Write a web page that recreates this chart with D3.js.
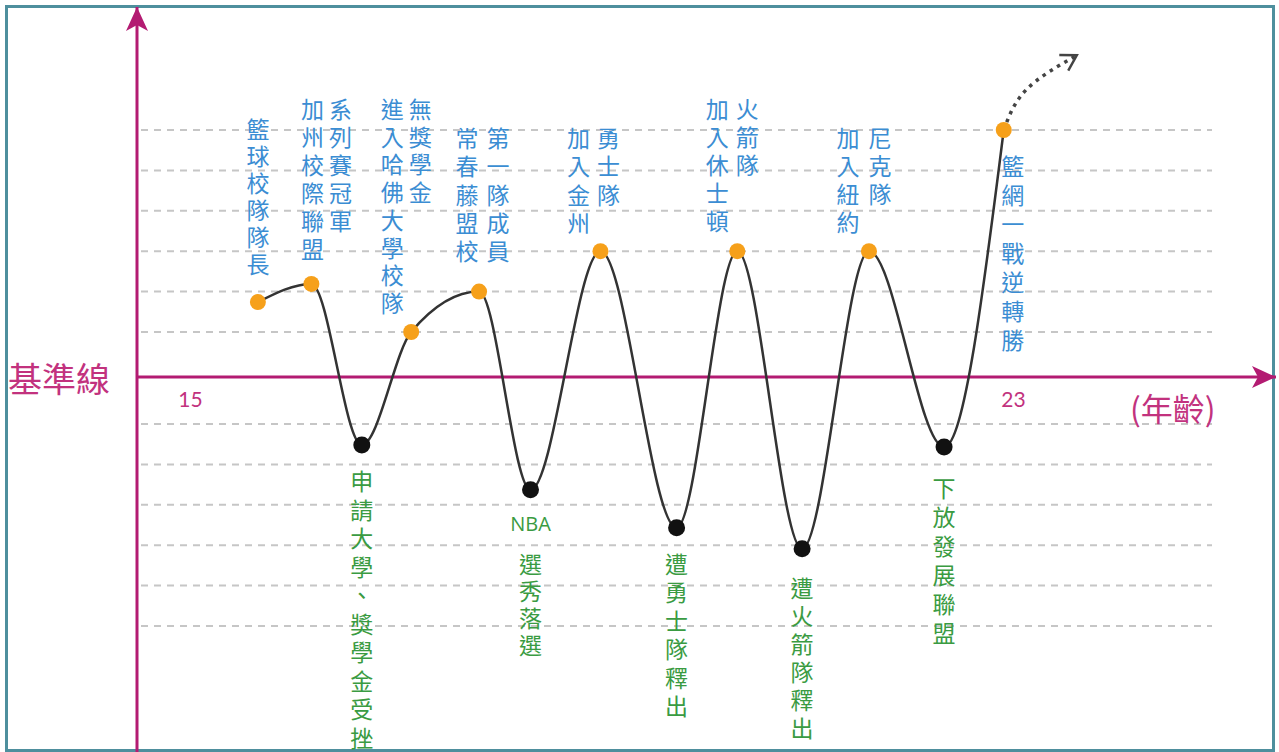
<!DOCTYPE html>
<html>
<head>
<meta charset="utf-8">
<script src="https://cdn.jsdelivr.net/npm/d3@7"></script>
<style>
  body { margin: 0; background: #fff; }
  svg { display: block; }
  text { font-family: "Noto Sans CJK TC", "Noto Sans", sans-serif; }
</style>
</head>
<body>
<svg id="chart" width="1279" height="752"></svg>
<script>
// ages (x) and ups/downs (y) of each event
const ages = [15.66, 16.18, 16.67, 17.15, 17.81, 18.31, 18.99, 19.73, 20.32, 20.95, 21.60, 22.33, 22.91];
const levels = [1.74, 2.19, -1.52, 1.0, 2.0, -2.63, 3.0, -3.57, 3.0, -4.09, 3.0, -1.57, 6.0];
const events = [
  ['籃球校隊隊長'],
  ['加州校際聯盟', '系列賽冠軍'],
  ['申請大學、獎學金受挫'],
  ['進入哈佛大學校隊', '無獎學金'],
  ['常春藤盟校', '第一隊成員'],
  ['NBA選秀落選'],
  ['加入金州', '勇士隊'],
  ['遭勇士隊釋出'],
  ['加入休士頓', '火箭隊'],
  ['遭火箭隊釋出'],
  ['加入紐約', '尼克隊'],
  ['下放發展聯盟'],
  ['籃網一戰逆轉勝']
];
// dotted "still going" continuation after the last point
const extAges = [22.91, 23.13, 23.62];
const extLevels = [6.0, 7.0, 7.85];
const ageTicks = [15, 23];
const gridLevels = [-6, -5, -4, -3, -2, -1, 1, 2, 3, 4, 5, 6];

// label placement: column offsets from the point, first character centre, line step
const labelLayout = [
  { dx: [0], top: 128, step: 27 },
  { dx: [1, 29], top: 108, step: 28 },
  { dx: [0], top: 480, step: 28.5 },
  { dx: [-19, 9], top: 108, step: 27.7 },
  { dx: [-12, 19], top: 137, step: 28.3 },
  { dx: [0], top: 523, step: 27 },
  { dx: [-22, 8], top: 137, step: 28.3 },
  { dx: [0], top: 563, step: 28.4 },
  { dx: [-20, 10], top: 108, step: 28 },
  { dx: [0], top: 587, step: 28 },
  { dx: [-21, 11], top: 137, step: 28 },
  { dx: [0], top: 487, step: 29 },
  { dx: [9], top: 165, step: 29 }
];

const magenta = '#b31b72';
const pink = '#c2327e';
const svg = d3.select('#chart');

const x = d3.scaleLinear().domain([15, 23]).range([190, 1013]);
const y = d3.scaleLinear().domain([-6, -1, 0, 1, 6]).range([626, 424, 377, 332, 130]);

// frame
svg.append('rect')
  .attr('x', 6.5).attr('y', 6.5).attr('width', 1267).attr('height', 744)
  .attr('fill', '#fff').attr('stroke', '#4e8f9d').attr('stroke-width', 3);

// dashed guide lines
svg.append('g').selectAll('line')
  .data(gridLevels)
  .join('line')
  .attr('x1', 141).attr('x2', 1212)
  .attr('y1', (d) => y(d)).attr('y2', (d) => y(d))
  .attr('stroke', '#c6c6c6')
  .attr('stroke-width', 2)
  .attr('stroke-dasharray', '7,6');

const defs = svg.append('defs');
defs.append('marker')
  .attr('id', 'axisHead')
  .attr('markerUnits', 'userSpaceOnUse')
  .attr('viewBox', '-24 -12 26 24')
  .attr('markerWidth', 26).attr('markerHeight', 24)
  .attr('refX', 0).attr('refY', 0)
  .attr('orient', 'auto')
  .append('path')
  .attr('d', 'M0,0 L-24,-11 L-18,0 L-24,11 Z')
  .attr('fill', magenta);
defs.append('marker')
  .attr('id', 'chevron')
  .attr('markerUnits', 'userSpaceOnUse')
  .attr('viewBox', '-18 -12 22 24')
  .attr('markerWidth', 22).attr('markerHeight', 24)
  .attr('refX', 0).attr('refY', 0)
  .attr('orient', 'auto')
  .append('path')
  .attr('d', 'M-15,-9 L0,0 L-15,9')
  .attr('fill', 'none')
  .attr('stroke', '#444')
  .attr('stroke-width', 2.5)
  .attr('stroke-linejoin', 'miter');

// axes
svg.append('line')
  .attr('x1', 137).attr('y1', 752).attr('x2', 137).attr('y2', 7)
  .attr('stroke', magenta).attr('stroke-width', 3)
  .attr('marker-end', 'url(#axisHead)');
svg.append('line')
  .attr('x1', 137).attr('y1', y(0)).attr('x2', 1276).attr('y2', y(0))
  .attr('stroke', magenta).attr('stroke-width', 3)
  .attr('marker-end', 'url(#axisHead)');

svg.append('g')
  .attr('transform', `translate(0, ${y(0)})`)
  .call(d3.axisBottom(x).tickValues(ageTicks).tickSize(0))
  .call((g) => g.select('.domain').remove())
  .call((g) => g.selectAll('.tick text')
    .attr('y', 15)
    .attr('fill', pink)
    .attr('font-size', 21)
    .style('font-family', 'Lato, "Open Sans", sans-serif'));

svg.append('text')
  .attr('x', 8).attr('y', y(0))
  .attr('dominant-baseline', 'central')
  .attr('fill', pink)
  .attr('font-size', 34)
  .text('基準線');
svg.append('text')
  .attr('x', 1130).attr('y', 407)
  .attr('dominant-baseline', 'central')
  .attr('fill', pink)
  .attr('font-size', 32)
  .text('(年齡)');

// life curve
const pts = ages.map((a, i) => [a, levels[i]]);
const line = d3.line()
  .x((d) => x(d[0]))
  .y((d) => y(d[1]))
  .curve(d3.curveMonotoneX);

svg.append('path')
  .datum(pts)
  .attr('fill', 'none')
  .attr('stroke', '#333')
  .attr('stroke-width', 2.5)
  .attr('d', line);

svg.append('path')
  .datum(extAges.map((a, i) => [a, extLevels[i]]))
  .attr('fill', 'none')
  .attr('stroke', '#444')
  .attr('stroke-width', 3.5)
  .attr('stroke-dasharray', '3.5,5')
  .attr('d', line.curve(d3.curveNatural))
  .attr('marker-end', 'url(#chevron)');

svg.append('g').selectAll('circle')
  .data(pts)
  .join('circle')
  .attr('cx', (d) => x(d[0]))
  .attr('cy', (d) => y(d[1]))
  .attr('r', (d) => (d[1] > 0 ? 8 : 8.5))
  .attr('fill', (d) => (d[1] > 0 ? '#f6a01a' : '#111'));

// vertical event labels, one text per character
const labels = svg.append('g');
events.forEach((cols, i) => {
  const lay = labelLayout[i];
  const up = levels[i] > 0;
  cols.forEach((col, c) => {
    const cx = x(ages[i]) + lay.dx[c];
    let cy = lay.top;
    col.match(/[A-Za-z]+|./g).forEach((tok) => {
      const latin = /^[A-Za-z]+$/.test(tok);
      labels.append('text')
        .attr('x', cx)
        .attr('y', cy)
        .attr('text-anchor', 'middle')
        .attr('dominant-baseline', 'central')
        .attr('fill', up ? '#3b8dd3' : '#3a9b42')
        .attr('font-size', latin ? 20 : 23)
        .style('font-family', latin ? '"Open Sans", sans-serif' : null)
        .text(tok);
      cy += latin ? 40 : lay.step;
    });
  });
});
</script>
</body>
</html>
